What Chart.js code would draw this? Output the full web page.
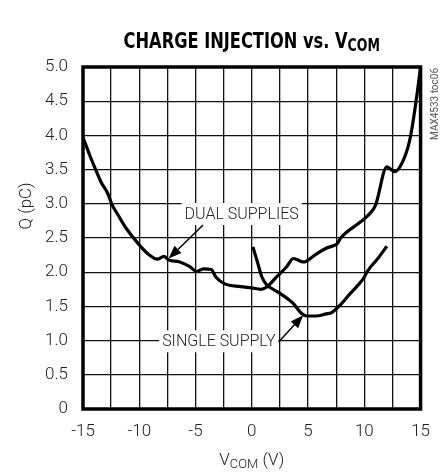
<!DOCTYPE html>
<html><head><meta charset="utf-8">
<script src="https://cdn.jsdelivr.net/npm/chart.js@4/dist/chart.umd.min.js"></script>
<style>html,body{margin:0;padding:0;background:#fff}canvas{display:block}</style>
</head><body>
<canvas id="c" width="443" height="472"></canvas>
<script>
// ---- data ----
const dualV = [-15,-14.4,-13.8,-13.4,-12.8,-12.4,-11.9,-11.2,-10.0,-9.1,-8.4,-7.8,-7.4,-6.4,-5.5,-4.9,-4.3,-3.6,-3.2,-2.4,-1.0,0.0,0.8,1.3,2.2,3.1,3.7,4.6,5.6,6.6,7.3,7.6,7.9,9.7,10.5,11.0,12.0,12.7,13.6,14.1,14.6,15];
const dualQ = [3.97,3.71,3.47,3.32,3.15,2.98,2.84,2.65,2.40,2.25,2.19,2.23,2.18,2.15,2.08,2.01,2.05,2.04,1.93,1.83,1.79,1.77,1.75,1.78,1.93,2.08,2.20,2.15,2.25,2.35,2.39,2.42,2.50,2.74,2.86,2.98,3.54,3.47,3.69,3.98,4.50,5.0];
const singleV = [0.1,0.5,0.9,1.3,2.0,2.5,3.2,3.7,4.4,4.9,5.7,6.6,7.1,7.8,8.7,9.7,10.0,10.3,11.2,12.0];
const singleQ = [2.37,2.15,1.93,1.82,1.74,1.69,1.61,1.54,1.40,1.36,1.36,1.39,1.41,1.51,1.68,1.86,1.93,2.02,2.20,2.38];
const xLabelTicks = [-15,-10,-5,0,5,10,15];
const yLabelTicks = [0,0.5,1.0,1.5,2.0,2.5,3.0,3.5,4.0,4.5,5.0];
const seriesNames = ['DUAL SUPPLIES','SINGLE SUPPLY'];
const titleMain = 'CHARGE INJECTION vs. V';
const titleSub = 'COM';
const xTitleMain = 'V', xTitleSub = 'COM', xTitleTail = ' (V)';
const yTitle = 'Q (pC)';
const sideNote = 'MAX4533 toc06';
// annotations: label centre and arrow (tail -> tip) in data units
const dualLabelAt = [-0.9, 2.85], dualArrow = [[-4.33, 2.69], [-7.39, 2.20]];
const singleLabelAt = [-2.93, 0.99], singleArrow = [[2.39, 0.98], [4.57, 1.37]];

const FF = "Roboto,'Liberation Sans',sans-serif";
const FT = "'DejaVu Sans Condensed','DejaVu Sans',sans-serif";
const toPts = (xs, ys) => xs.map((x, i) => ({x, y: ys[i]}));

function arrow(ctx, x1, y1, x2, y2) {
  const a = Math.atan2(y2 - y1, x2 - x1), L = 13, W = 5;
  const bx = x2 - L * Math.cos(a), by = y2 - L * Math.sin(a);
  ctx.beginPath(); ctx.moveTo(x1, y1); ctx.lineTo(bx, by);
  ctx.lineWidth = 1.5; ctx.strokeStyle = '#000'; ctx.stroke();
  ctx.beginPath(); ctx.moveTo(x2, y2);
  ctx.lineTo(bx + W * Math.sin(a), by - W * Math.cos(a));
  ctx.lineTo(bx - W * Math.sin(a), by + W * Math.cos(a));
  ctx.closePath(); ctx.fillStyle = '#000'; ctx.fill();
}

const deco = {
  id: 'deco',
  beforeDatasetsDraw(chart) {
    const {ctx, scales: {x, y}} = chart;
    ctx.save();
    ctx.font = '300 16px ' + FF; ctx.textAlign = 'center'; ctx.textBaseline = 'middle';
    [[seriesNames[0], dualLabelAt], [seriesNames[1], singleLabelAt]].forEach(([t, p]) => {
      const cx = x.getPixelForValue(p[0]), cy = y.getPixelForValue(p[1]);
      const w = ctx.measureText(t).width + 6;
      ctx.fillStyle = '#fff'; ctx.fillRect(cx - w / 2, cy - 11, w, 22);
      ctx.fillStyle = '#222'; ctx.fillText(t, cx, cy + 1);
    });
    [dualArrow, singleArrow].forEach(([a, b]) => arrow(ctx,
      x.getPixelForValue(a[0]), y.getPixelForValue(a[1]),
      x.getPixelForValue(b[0]), y.getPixelForValue(b[1])));
    ctx.restore();
  },
  afterDatasetsDraw(chart) {
    const {ctx, chartArea: ca} = chart;
    ctx.save();
    ctx.lineWidth = 3.5; ctx.strokeStyle = '#000';
    ctx.strokeRect(ca.left, ca.top, ca.right - ca.left, ca.bottom - ca.top);
    // title with subscript (condensed horizontally like the original)
    ctx.fillStyle = '#000'; ctx.textBaseline = 'alphabetic'; ctx.textAlign = 'left';
    const sx = 0.82;
    ctx.font = 'bold 22px ' + FT; const w1 = ctx.measureText(titleMain).width;
    ctx.font = 'bold 17px ' + FT; const w2 = ctx.measureText(titleSub).width;
    ctx.save();
    ctx.translate((ca.left + ca.right) / 2 - sx * (w1 + w2) / 2, 0);
    ctx.scale(sx, 1);
    ctx.font = 'bold 22px ' + FT; ctx.fillText(titleMain, 0, 48);
    ctx.font = 'bold 17px ' + FT; ctx.fillText(titleSub, w1, 51);
    ctx.restore();
    // x title
    ctx.fillStyle = '#222';
    ctx.font = '300 17px ' + FF; const a1 = ctx.measureText(xTitleMain).width, a3 = ctx.measureText(xTitleTail).width;
    ctx.font = '300 13px ' + FF; const a2 = ctx.measureText(xTitleSub).width;
    let xx = (ca.left + ca.right) / 2 - (a1 + a2 + a3) / 2;
    ctx.font = '300 17px ' + FF; ctx.fillText(xTitleMain, xx, 465);
    ctx.font = '300 13px ' + FF; ctx.fillText(xTitleSub, xx + a1, 468);
    ctx.font = '300 17px ' + FF; ctx.fillText(xTitleTail, xx + a1 + a2, 465);
    // y title
    ctx.save(); ctx.translate(27, 206); ctx.rotate(-Math.PI / 2);
    ctx.textAlign = 'center'; ctx.textBaseline = 'middle'; ctx.font = '300 17px ' + FF;
    ctx.fillText(yTitle, 0, 0); ctx.restore();
    // side note
    ctx.save(); ctx.translate(435, 68); ctx.rotate(-Math.PI / 2);
    ctx.textAlign = 'right'; ctx.textBaseline = 'middle'; ctx.font = '10px ' + FF; ctx.fillStyle = '#555';
    ctx.fillText(sideNote, 0, 0); ctx.restore();
    ctx.restore();
  }
};

new Chart(document.getElementById('c'), {
  type: 'line',
  data: {
    datasets: [
      {label: seriesNames[0], data: toPts(dualV, dualQ)},
      {label: seriesNames[1], data: toPts(singleV, singleQ)}
    ].map(d => Object.assign(d, {borderColor: '#000', borderWidth: 3.2, pointRadius: 0, fill: false, cubicInterpolationMode: 'monotone'}))
  },
  options: {
    responsive: false, animation: false,
    layout: {padding: {left: 0, right: 17, top: 67, bottom: 0}},
    plugins: {legend: {display: false}, tooltip: {enabled: false}},
    scales: {
      x: {
        type: 'linear', min: -15, max: 15,
        afterFit: s => { s.height = 63; },
        afterBuildTicks: s => { const t = []; for (let v = -15; v <= 15; v += 2.5) t.push({value: v}); s.ticks = t; },
        ticks: {
          padding: 13, color: '#222', font: {family: FF, size: 17, weight: '300'}, maxRotation: 0, autoSkip: false,
          callback: v => xLabelTicks.includes(v) ? String(v) : ''
        },
        grid: {color: '#111', lineWidth: 1.3, drawTicks: false},
        border: {display: false}
      },
      y: {
        min: 0, max: 5,
        afterFit: s => { s.width = 83; },
        afterBuildTicks: s => { s.ticks = yLabelTicks.map(v => ({value: v})); },
        ticks: {
          padding: 15, color: '#222', font: {family: FF, size: 17, weight: '300'},
          callback: v => v === 0 ? '0' : v.toFixed(1)
        },
        grid: {color: '#111', lineWidth: 1.3, drawTicks: false},
        border: {display: false}
      }
    }
  },
  plugins: [deco]
});
</script>
</body></html>
